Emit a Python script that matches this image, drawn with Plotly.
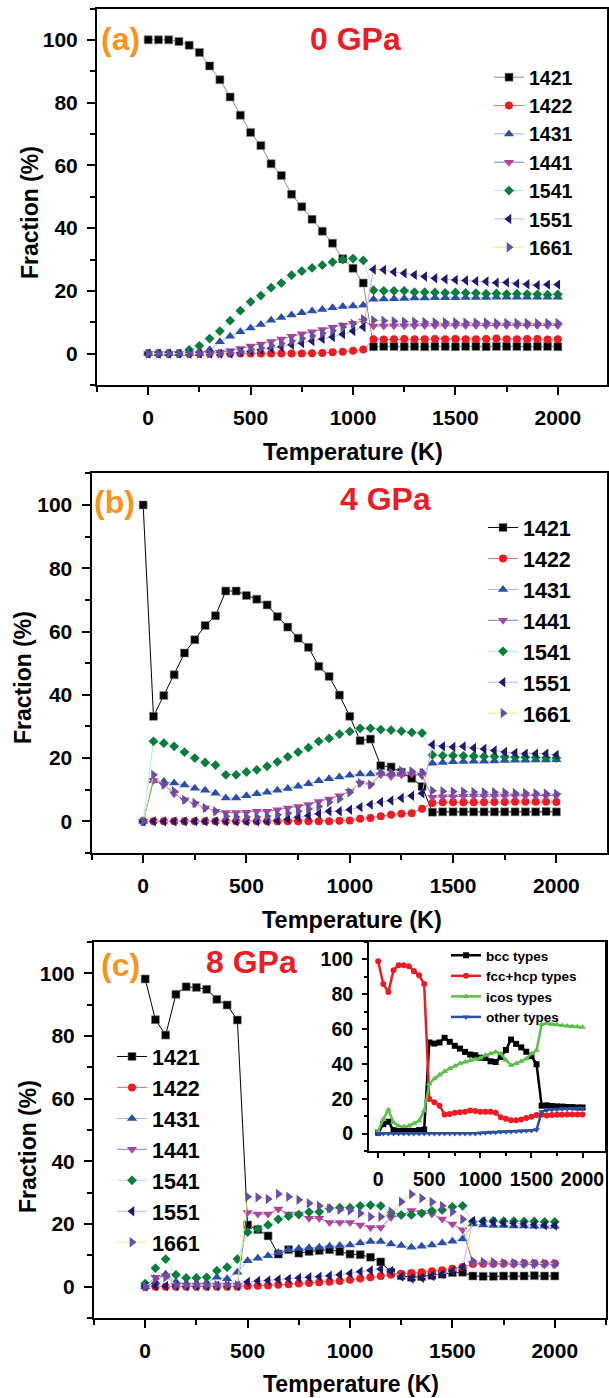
import plotly.graph_objects as go

# temperatures (K), same grid for every series
temperature = [0, 50, 100, 150, 200, 250, 300, 350, 400, 450, 500, 550, 600, 650, 700,
               750, 800, 850, 900, 950, 1000, 1050, 1100, 1150, 1200, 1250, 1300, 1350,
               1400, 1450, 1500, 1550, 1600, 1650, 1700, 1750, 1800, 1850, 1900, 1950, 2000]

names = ['1421', '1422', '1431', '1441', '1541', '1551', '1661']

# (a) 0 GPa
a_1421 = [100, 100, 100, 99.5, 98.3, 96, 91.7, 87.3, 81.8, 76, 70.5, 66.3, 60.5, 56.8, 50.8,
          46.8, 42.8, 39, 35.2, 30.2, 27.2, 22.5, 2.2, 2.3, 2.3, 2.2, 2.3, 2.2, 2.3, 2.3,
          2.2, 2.3, 2.3, 2.2, 2.3, 2.3, 2.3, 2.2, 2.3, 2.3, 2.2]
a_1422 = [0, 0, 0, 0, 0, 0, 0, 0, 0, 0, 0, 0, 0, 0, 0, 0, 0.1, 0.2, 0.4, 0.6, 0.9, 1.3,
          4.6, 4.5, 4.6, 4.7, 4.6, 4.6, 4.7, 4.6, 4.7, 4.6, 4.6, 4.7, 4.8, 4.6, 4.6, 4.7,
          4.7, 4.5, 4.6]
a_1431 = [0, 0, 0, 0, 0, 0, 1.2, 3.8, 5.5, 7, 8.2, 9.3, 10.6, 11.5, 12.3, 13, 13.6, 14.1,
          14.6, 15, 15.2, 15.4, 17.3, 17.4, 17.5, 17.6, 17.7, 17.7, 17.8, 17.8, 17.8, 17.9,
          17.9, 17.9, 18, 18, 18, 18, 18, 18, 18]
a_1441 = [0, 0, 0, 0, 0, 0, 0, 0.4, 0.9, 1.6, 2.4, 3.1, 3.9, 4.7, 5.5, 6.3, 7, 7.7, 8.4,
          9.1, 9.7, 10.4, 8.8, 8.8, 8.9, 8.9, 8.9, 9, 9, 9, 9, 9, 9, 9, 9, 9, 9, 9, 9, 9, 9]
a_1541 = [0, 0, 0, 0, 1.2, 2.5, 4.8, 7.2, 10.5, 13.7, 16.5, 18.5, 21, 22.5, 25, 26.3, 27.3,
          28.2, 29.2, 30, 30.3, 29.7, 20.2, 20, 20, 20, 19.6, 19.6, 19.5, 19.4, 19.5, 19.4,
          19.3, 19.1, 19.2, 19, 19.1, 19, 18.9, 18.8, 18.9]
a_1551 = [0, 0, 0, 0, 0, 0, 0, 0, 0, 0.4, 0.8, 1.2, 1.7, 2.2, 2.8, 3.4, 4, 4.7, 5.3, 6.2,
          7.2, 8.5, 26.8, 26.7, 26, 25.6, 25.1, 24.6, 24, 23.7, 23.5, 23.3, 23.1, 23, 22.6,
          22.7, 22.3, 22.1, 21.8, 22, 22]
a_1661 = [0, 0, 0, 0, 0, 0, 0, 0, 0.3, 0.7, 1.3, 1.8, 2.5, 3.2, 4, 4.8, 5.6, 6.5, 7.3, 8.5,
          9.5, 11, 10.6, 10.5, 10.3, 10.2, 10.2, 10.1, 10, 10, 10, 9.9, 9.9, 9.9, 9.8, 9.8,
          9.8, 9.8, 9.7, 9.8, 9.8]

# (b) 4 GPa
b_1421 = [100, 33.2, 39.8, 46.3, 53.2, 57.4, 61.9, 65, 72.8, 72.8, 71.4, 70.2, 68.4, 64.7,
          61.4, 57.9, 55, 49, 45.8, 39.9, 33.2, 25.5, 26, 17.6, 17.2, 15.5, 13.6, 11,
          2.9, 3, 3, 3, 3, 3, 3, 3, 3, 3, 3, 3.1, 3]
b_1422 = [0, 0, 0, 0, 0, 0, 0, 0, 0, 0, 0, 0, 0, 0, 0, 0, 0, 0, 0, 0.2, 0.3, 0.8, 1.1, 1.6,
          2.1, 2.4, 2.6, 4, 5.8, 6, 6, 6, 6, 6, 6.1, 6.1, 6.2, 6.2, 6.2, 6.2, 6.1]
b_1431 = [0, 12.9, 12.6, 12.1, 11.5, 10.5, 9.8, 8.9, 7.4, 7.4, 8.1, 8.7, 9.2, 9.8, 10.4,
          11.1, 11.9, 12.8, 13.5, 14, 14.6, 15, 15, 15.3, 15.3, 15.3, 15.3, 15.5, 18.4, 18.6,
          18.8, 18.9, 19, 19, 19.1, 19.2, 19.3, 19.3, 19.4, 19.4, 19.5]
b_1441 = [0, 13, 11.6, 8.7, 6.8, 5.6, 4.2, 3.2, 2.8, 2.8, 2.9, 3.2, 3.2, 3.7, 4.2, 4.7, 5.3,
          6.3, 7.1, 8.1, 9.5, 12.1, 11.6, 14.7, 14.2, 14.7, 15, 14.4, 7.6, 7.8, 7.8, 7.9, 8,
          8, 8, 8, 8.1, 8.1, 8.1, 8.1, 8.2]
b_1541 = [0, 25.3, 24.7, 23.7, 21.9, 20, 18.6, 17.8, 14.7, 14.7, 15.6, 16.3, 17.4, 18.8, 20.4,
          21.9, 23.3, 25.3, 26.2, 27.6, 28.4, 29.4, 29.4, 29, 28.8, 28.5, 28.1, 27.9, 21, 20.8,
          20.8, 20.7, 20.6, 20.5, 20.5, 20.4, 20.3, 20.3, 20.2, 20.1, 20]
b_1551 = [0, 0, 0, 0, 0, 0, 0, 0, 0, 0, 0, 0, 0, 0.3, 0.7, 1.3, 1.8, 2.4, 3.2, 3.2, 3.7, 4.5,
          5.3, 6.1, 6.6, 7.4, 8.1, 8.9, 24.2, 23.7, 23.5, 23.7, 23.2, 22.9, 22.4, 21.9, 21.6,
          21.4, 21.4, 21.4, 21]
b_1661 = [0, 14.7, 11.6, 9.5, 6.8, 5.8, 4.2, 3.2, 1.6, 1.4, 1.4, 1.4, 1.6, 2.1, 2.6, 3.2, 3.9,
          4.7, 6, 7.1, 9.2, 12.1, 11.6, 15.5, 15.3, 16, 15.8, 15.3, 9.7, 9.5, 9.4, 9.4, 9.3,
          9.2, 9.2, 9.1, 9, 9, 8.9, 8.8, 8.7]

# (c) 8 GPa
c_1421 = [98.2, 85.2, 80.3, 93.3, 95.7, 95.5, 94.9, 91.7, 89.9, 85.1, 19.7, 18.2, 16.2, 10.4,
          11.8, 10.7, 11.2, 11.5, 11.8, 11.2, 10.4, 10.2, 9.4, 7.9, 4.6, 3.5, 3, 3.2, 3.6, 4,
          4.5, 4.6, 3.4, 3.3, 3.3, 3.4, 3.4, 3.4, 3.5, 3.4, 3.4]
c_1422 = [0, 0, 0, 0, 0, 0, 0, 0, 0, 0, 0.2, 0.3, 0.4, 0.6, 0.8, 1, 1.2, 1.4, 1.6, 1.8, 2.2,
          2.6, 3, 3.4, 3.8, 4.1, 4.4, 4.6, 4.9, 5.2, 5.7, 6.3, 7.2, 7.3, 7.3, 7.4, 7.4, 7.5,
          7.5, 7.4, 7.4]
c_1431 = [0, 1.5, 4, 1.5, 0.8, 0.8, 1.2, 3, 2.5, 4.6, 8.3, 9.1, 9.9, 10.8, 11.8, 12.2, 12.4,
          12.6, 12.9, 13.1, 13.3, 13.9, 14.4, 14.4, 13.6, 13.1, 12.6, 12.9, 13.3, 13.9, 14.5,
          15.2, 20, 19.7, 19.5, 19.5, 19.4, 19.4, 19.3, 19.3, 19.3]
c_1441 = [0, 3, 3.5, 0.5, 0.5, 0.5, 0.5, 0.5, 0.5, 0.5, 23.7, 23.2, 23.2, 24.8, 23.2, 23.2,
          21.8, 21.8, 20.5, 20.5, 20.5, 19.7, 18.9, 18.9, 22.1, 22.7, 24.3, 23.7, 23.2, 21.6,
          20, 18.2, 7.5, 7.3, 7.2, 7.2, 7.1, 7.1, 7, 7, 7]
c_1541 = [1, 5.9, 8.8, 3.8, 2.8, 2.8, 3, 5.1, 6.2, 8.8, 17.4, 18.4, 19.7, 21.5, 22.5, 23,
          23.8, 23.9, 25, 25.2, 25.2, 25.8, 26, 25.8, 23.4, 22.9, 22.9, 23.4, 24.2, 24.5, 25.5,
          25.8, 20.7, 20.9, 21, 20.9, 20.9, 20.8, 20.8, 20.7, 20.7]
c_1551 = [0, 0.2, 0.2, 0.2, 0.2, 0.2, 0.2, 0.3, 0.3, 0.3, 1.5, 1.8, 2, 2.3, 2.5, 2.8, 3, 3.2,
          3.5, 3.8, 4.2, 4.8, 5.2, 5.6, 5, 3.2, 2.6, 2.8, 3.4, 4, 5, 6.2, 21, 20.8, 20.6, 20.4,
          20.2, 20, 19.8, 19.6, 19.5]
c_1661 = [0, 2.5, 3, 0.5, 0.5, 0.5, 0.5, 0.5, 0.5, 0.5, 28.7, 28.5, 28, 29.6, 28.7, 27.7,
          26.6, 25.8, 25, 24.5, 24.3, 23.4, 22.3, 22.3, 23.9, 27.1, 29.5, 28.2, 27, 25.8, 23.9,
          21.5, 8.2, 7.9, 7.8, 7.6, 7.6, 7.5, 7.4, 7.4, 7.3]

# inset of (c)
inset_names = ['bcc types', 'fcc+hcp types', 'icos types', 'other types']
bcc = [0.5, 5.4, 6.8, 2, 1.5, 1.5, 1.5, 1.5, 2, 2.3, 52.3, 51.7, 52.3, 55, 52.7, 50.4, 48.8,
       46.9, 45.4, 45, 43.6, 43.4, 41.5, 41.1, 44, 48, 54, 51.5, 49.5, 47, 44.5, 39.8, 16,
       16.2, 15.8, 15.6, 15.5, 15.3, 15.2, 15, 15]
fcc_hcp = [99, 85.9, 81.3, 93.8, 96.7, 96.7, 96.1, 93.2, 90.9, 85.9, 19.9, 18, 16, 11, 11.3,
           11.9, 12.3, 12.5, 13.3, 12.9, 12.5, 12.5, 12.5, 11.9, 9.4, 8.5, 7.7, 7.7, 8.1, 9,
           9.6, 10.6, 11, 10.4, 10.6, 10.8, 10.8, 10.9, 11, 11, 11]
icos = [1.5, 8.3, 13.7, 6.4, 4.4, 4, 4.4, 5.8, 7.3, 13.1, 28.6, 31.5, 33.8, 35.7, 37.3, 38.8,
        40.2, 41.1, 42.1, 42.7, 43.4, 45, 45.9, 46.9, 45.9, 42.1, 39.2, 40.2, 41.5, 43, 45.9,
        47.9, 62.7, 63.3, 62.7, 62.5, 62, 61.8, 61.5, 61.4, 61]
other = [0, 0, 0, 0, 0, 0, 0, 0, 0, 0, 0, 0, 0, 0, 0, 0, 0, 0, 0, 0, 0.3, 0.5, 0.7, 0.8, 1,
         1.1, 1.2, 1.3, 1.5, 1.6, 1.8, 2.2, 12.5, 13.5, 13.8, 14, 14.2, 14.3, 14.4, 14.5, 14.6]

# Origin style: thin pale connecting line, solid coloured marker
marker_colors = ['#000000', '#ED1C24', '#2B4FA6', '#B0449C', '#0A7C3C', '#1A1C6B', '#6A4CAB']
line_colors = ['#8C8C8C', '#F06A6A', '#9DB5E8', '#6F86C9', '#A6EAF0', '#E8A6D8', '#F0EE70']
symbols = ['square', 'circle', 'triangle-up', 'triangle-down', 'diamond', 'triangle-left', 'triangle-right']
sizes = [8, 8, 9, 9, 7.5, 9, 9]

FONT = 'Liberation Sans'
W, H = 609, 1398

fig = go.Figure()

panels = [
    ([a_1421, a_1422, a_1431, a_1441, a_1541, a_1551, a_1661], 'x', 'y', 'legend'),
    ([b_1421, b_1422, b_1431, b_1441, b_1541, b_1551, b_1661], 'x2', 'y2', 'legend2'),
    ([c_1421, c_1422, c_1431, c_1441, c_1541, c_1551, c_1661], 'x3', 'y3', 'legend3'),
]
for k, (series, xa, ya, lg) in enumerate(panels):
    for i, vals in enumerate(series):
        lc = line_colors[i]
        if k > 0 and i == 0:
            lc = '#000000'
        fig.add_trace(go.Scatter(
            x=temperature, y=vals, name=names[i], mode='lines+markers',
            xaxis=xa, yaxis=ya, legend=lg,
            line=dict(color=lc, width=1),
            marker=dict(symbol=symbols[i], color=marker_colors[i], size=sizes[i],
                        line=dict(width=0.6 if i == 0 else 0, color='#888888'))))

inset_colors = ['#000000', '#ED1C24', '#5CC04A', '#2B4FA6']
inset_symbols = ['square', 'circle', 'triangle-up', 'triangle-down']
for i, vals in enumerate([bcc, fcc_hcp, icos, other]):
    fig.add_trace(go.Scatter(
        x=temperature, y=vals, name=inset_names[i], mode='lines+markers',
        xaxis='x4', yaxis='y4', legend='legend4',
        line=dict(color=inset_colors[i], width=2.5),
        marker=dict(symbol=inset_symbols[i], color=inset_colors[i], size=6)))


def px_x(p):
    return p / W


def px_y(p):
    return 1 - p / H


def xax(left, right, rng, size=21, tl=8, mtl=5):
    return dict(domain=[px_x(left), px_x(right)], range=rng, showline=True, linecolor='black',
                linewidth=2, mirror=True, ticks='outside', ticklen=tl, tickwidth=2,
                tickcolor='black', tick0=0, dtick=500, showgrid=False, zeroline=False,
                ticklabelstandoff=5, ticklabeloverflow='allow',
                minor=dict(dtick=250, tick0=0, ticks='outside', ticklen=mtl, tickwidth=2,
                           tickcolor='black', showgrid=False),
                tickfont=dict(family=FONT, size=size, color='black', weight='bold'))


def yax(top, bottom, anchor, size=21, tl=8, mtl=5):
    return dict(domain=[px_y(bottom), px_y(top)], range=[-10, 110], anchor=anchor,
                showline=True, linecolor='black', linewidth=2, mirror=True, ticks='outside',
                ticklen=tl, tickwidth=2, tickcolor='black', tick0=0, dtick=20,
                showgrid=False, zeroline=False, ticklabelstandoff=5,
                minor=dict(dtick=10, tick0=0, ticks='outside', ticklen=mtl, tickwidth=2,
                           tickcolor='black', showgrid=False),
                tickfont=dict(family=FONT, size=size, color='black', weight='bold'))


def leg(left, top, size):
    return dict(x=px_x(left), y=px_y(top), xanchor='left', yanchor='top',
                bgcolor='rgba(0,0,0,0)', borderwidth=0, tracegroupgap=0,
                font=dict(family=FONT, size=size, color='black', weight='bold'))


fig.update_layout(
    width=W, height=H, margin=dict(l=0, r=0, t=0, b=0),
    paper_bgcolor='white', plot_bgcolor='white', showlegend=True,
    xaxis=dict(xax(97, 607, [-250, 2240]), anchor='y'),
    yaxis=yax(8.5, 385, 'x'),
    xaxis2=dict(xax(91.5, 607, [-250, 2245]), anchor='y2'),
    yaxis2=yax(473.3, 853, 'x2'),
    xaxis3=dict(xax(94, 606, [-250, 2250]), anchor='y3'),
    yaxis3=yax(942, 1318, 'x3'),
    xaxis4=dict(xax(369, 605, [-90, 2220], size=19.5, tl=5, mtl=3), anchor='y4'),
    yaxis4=yax(942, 1151, 'x4', size=19.5, tl=5, mtl=3),
    legend=leg(489, 58, 19.5),
    legend2=leg(483, 507, 21.5),
    legend3=leg(112, 1036, 21.5),
    legend4=leg(446, 940, 13.5),
)

# axis titles and panel labels
texts = [
    ('Temperature (K)', 353, 452, 23.5, 'black', 0),
    ('Temperature (K)', 351.5, 920, 23.5, 'black', 0),
    ('Temperature (K)', 351, 1384, 23, 'black', 0),
    ('Fraction (%)', 30, 213, 23, 'black', -90),
    ('Fraction (%)', 23, 678, 23, 'black', -90),
    ('Fraction (%)', 28, 1147, 23, 'black', -90),
    ('(a)', 120, 39, 32, '#F7941D', 0),
    ('0 GPa', 356, 39, 32, '#ED1C24', 0),
    ('(b)', 114, 502, 32, '#F7941D', 0),
    ('4 GPa', 385, 499, 32, '#ED1C24', 0),
    ('(c)', 120, 965, 32, '#F7941D', 0),
    ('8 GPa', 251, 962, 32, '#ED1C24', 0),
]
for t, x, y, s, c, ang in texts:
    fig.add_annotation(text=t, x=px_x(x), y=px_y(y), xref='paper', yref='paper',
                       xanchor='center', yanchor='middle', showarrow=False, textangle=ang,
                       font=dict(family=FONT, size=s, color=c, weight='bold'))

# page body has an 8px default margin; drop it so the figure sits at the corner
fig.write_html('out.html', config={'displayModeBar': False},
               post_script="document.body.style.margin = '0';")
